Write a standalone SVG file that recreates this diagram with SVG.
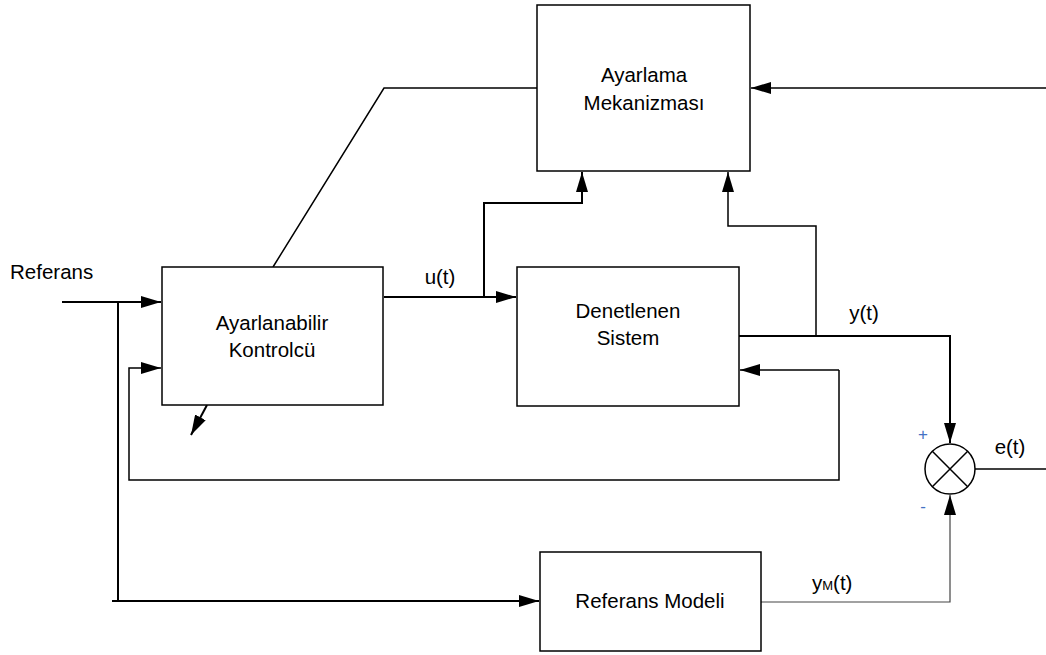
<svg xmlns="http://www.w3.org/2000/svg" width="1046" height="655" viewBox="0 0 1046 655">
<style>
.box{fill:#fff;stroke:#000;stroke-width:1.5}
.ln{fill:none;stroke:#000;stroke-width:1.5}
.th{fill:none;stroke:#000;stroke-width:2}
.gr{fill:none;stroke:#444;stroke-width:1.2}
.t{font-family:"Liberation Sans",Arial,sans-serif;font-size:20.5px;fill:#000}
.c{text-anchor:middle}
.s{font-family:"Liberation Sans",Arial,sans-serif;font-size:17px;fill:#4472C4;text-anchor:middle}
</style>
<defs>
<marker id="ah" viewBox="0 0 20 12" markerWidth="20" markerHeight="12" refX="20" refY="6" orient="auto" markerUnits="userSpaceOnUse">
<path d="M0,0 L20,6 L0,12 Z" fill="#000"/>
</marker>
</defs>
<rect width="1046" height="655" fill="#fff"/>
<g id="connectors">
<path class="ln" d="M1046,88 L751,88" marker-end="url(#ah)"/>
<path class="ln" d="M537,88 L384,88 L273,267"/>
<path class="th" d="M62,302 L161,302" marker-end="url(#ah)"/>
<path class="th" d="M118,302 L118,601"/>
<path class="th" d="M112,601 L539,601" marker-end="url(#ah)"/>
<path class="th" d="M384,297 L516,297" marker-end="url(#ah)"/>
<path class="th" d="M484,297 L484,203 L582,203 L582,172" marker-end="url(#ah)"/>
<path class="ln" d="M816,336 L816,226 L728,226 L728,172" marker-end="url(#ah)"/>
<path class="th" d="M739,336 L950,336 L950,443" marker-end="url(#ah)"/>
<path class="ln" d="M839,370 L740,370" marker-end="url(#ah)"/>
<path class="ln" d="M839,370 L839,480 L129,480 L129,368 L161,368" marker-end="url(#ah)"/>
<path class="th" d="M207,405 L191,435" marker-end="url(#ah)"/>
<path class="gr" d="M761,602 L950,602 L950,495" marker-end="url(#ah)"/>
<path class="ln" d="M975,469 L1046,469"/>
</g>
<g id="ayarlama">
<rect class="box" x="537" y="5" width="213" height="166"/>
<text class="t c" x="644" y="82">Ayarlama</text>
<text class="t c" x="644" y="110">Mekanizması</text>
</g>
<g id="kontrolcu">
<rect class="box" x="162" y="267" width="221" height="138"/>
<text class="t c" x="272" y="330">Ayarlanabilir</text>
<text class="t c" x="272" y="357">Kontrolcü</text>
</g>
<g id="sistem">
<rect class="box" x="517" y="267" width="222" height="139"/>
<text class="t c" x="628" y="318">Denetlenen</text>
<text class="t c" x="628" y="345">Sistem</text>
</g>
<g id="model">
<rect class="box" x="540" y="552" width="221" height="99"/>
<text class="t c" x="650" y="608">Referans Modeli</text>
</g>
<g id="toplama">
<circle cx="950" cy="469" r="25" fill="#fff" stroke="#000" stroke-width="1.5"/>
<path class="ln" d="M932.3,451.3 L967.7,486.7 M967.7,451.3 L932.3,486.7"/>
<text class="s" x="923" y="440">+</text>
<text class="s" x="923" y="512">-</text>
</g>
<g id="labels">
<text class="t" x="10" y="279">Referans</text>
<text class="t c" x="440" y="284">u(t)</text>
<text class="t c" x="864" y="320">y(t)</text>
<text class="t c" x="1010" y="454">e(t)</text>
<text class="t" x="812" y="590">y<tspan font-size="13">M</tspan>(t)</text>
</g>
</svg>
